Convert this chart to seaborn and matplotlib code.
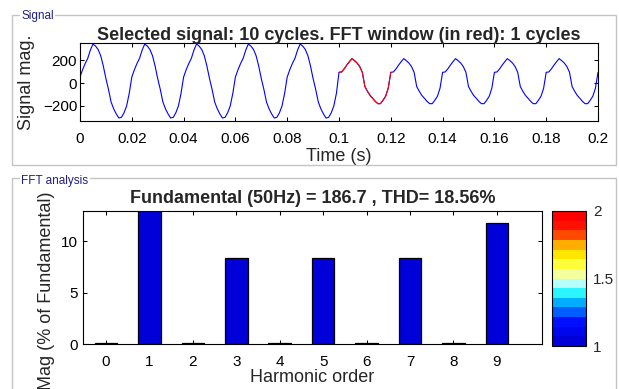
import numpy as np
import pandas as pd
import matplotlib
matplotlib.use("Agg")
import matplotlib.pyplot as plt
from matplotlib.cm import ScalarMappable
from matplotlib.colors import (LinearSegmentedColormap, ListedColormap,
                               Normalize)
from matplotlib.patches import Rectangle
import seaborn as sns

# one 20 ms period (1 ms steps)
cycle_before = [53, 118, 172, 218, 290, 343, 325, 295, 240, 150,
                40, -55, -165, -225, -270, -306, -300, -260, -200, -90]
cycle_after = [95, 98, 125, 158, 188, 215, 197, 176, 145, 95,
               -30, -72, -108, -133, -160, -180, -180, -150, -115, -45]
n_cycles_before = 5
n_cycles_after = 5
sample_step = 0.001  # s
fft_window = (0.10, 0.12)

time_ticks = [0, 0.02, 0.04, 0.06, 0.08, 0.1, 0.12, 0.14, 0.16, 0.18, 0.2]
time_tick_labels = ['0', '0.02', '0.04', '0.06', '0.08', '0.1',
                    '0.12', '0.14', '0.16', '0.18', '0.2']
signal_ticks = [-200, 0, 200]

harmonic_order = [0, 1, 2, 3, 4, 5, 6, 7, 8, 9]
harmonic_mag = [0.05, 100, 0.05, 8.38, 0.05, 8.38, 0.05, 8.38, 0.05, 11.8]
mag_ticks = [0, 5, 10]

cbar_ticks = [1, 1.5, 2]
cbar_tick_labels = ['1', '1.5', '2']

signal = (cycle_before * n_cycles_before + cycle_after * n_cycles_after
          + cycle_after[:1])
signal_df = pd.DataFrame({
    'time': np.arange(len(signal)) * sample_step,
    'mag': signal,
})
window_df = signal_df[(signal_df.time >= fft_window[0] - 1e-9)
                      & (signal_df.time <= fft_window[1] + 1e-9)]
fft_df = pd.DataFrame({'order': harmonic_order, 'mag': harmonic_mag})

sns.set_style('ticks')
plt.rcParams['font.family'] = ['Liberation Sans', 'DejaVu Sans']

W, H = 619, 389
fig = plt.figure(figsize=(W / 100, H / 100), dpi=100)
fig.patch.set_facecolor('white')


def px_rect(left, top, right, bottom):
    return [left / W, 1 - bottom / H, (right - left) / W, (bottom - top) / H]


def style_axes(ax):
    ax.tick_params(direction='in', top=True, right=True, length=3,
                   width=0.75, labelsize=11, colors='black')
    for spine in ax.spines.values():
        spine.set_visible(True)
        spine.set_linewidth(0.8)
        spine.set_color('black')


# group box frames
box_color = '#c4c4c4'
fig.add_artist(Rectangle((12 / W, 1 - 165 / H), 604 / W, 150 / H,
                         transform=fig.transFigure, fill=False,
                         edgecolor=box_color, lw=1))
fig.add_artist(Rectangle((12 / W, 1 - 420 / H), 604 / W, 242 / H,
                         transform=fig.transFigure, fill=False,
                         edgecolor=box_color, lw=1))
fig.text(21 / W, 1 - 16 / H, 'Signal', fontsize=8.5, color='#202080',
         va='center', ha='left',
         bbox=dict(facecolor='white', edgecolor='none', pad=1))
fig.text(21 / W, 1 - 181 / H, 'FFT analysis', fontsize=8.5,
         color='#202080', va='center', ha='left',
         bbox=dict(facecolor='white', edgecolor='none', pad=1))

# signal panel
ax1 = fig.add_axes(px_rect(80, 43, 598, 121))
sns.lineplot(data=signal_df, x='time', y='mag', ax=ax1, color='#0000ff',
             lw=0.8, estimator=None)
sns.lineplot(data=window_df, x='time', y='mag', ax=ax1, color='#ff0000',
             lw=0.8, estimator=None)
ax1.set_xlim(0, 0.2)
ax1.set_ylim(-332, 352)
ax1.set_xticks(time_ticks)
ax1.set_xticklabels(time_tick_labels)
ax1.set_yticks(signal_ticks)
style_axes(ax1)
ax1.tick_params(axis='x', pad=8)
ax1.tick_params(axis='y', pad=2)
ax1.set_xlabel('Time (s)', fontsize=13, labelpad=1)
ax1.set_ylabel('Signal mag.', fontsize=13, labelpad=6)
ax1.set_title('Selected signal: 10 cycles. FFT window (in red): 1 cycles',
              fontsize=13, fontweight='bold', pad=2)

# FFT panel
ax2 = fig.add_axes(px_rect(83, 211, 542, 344))
sns.barplot(data=fft_df, x='order', y='mag', ax=ax2, native_scale=True,
            color='#0000d8', saturation=1, width=0.52, edgecolor='black',
            linewidth=0.9)
ax2.set_xlim(-0.53, 10.04)
ax2.set_ylim(0, 12.95)
ax2.set_xticks(harmonic_order)
ax2.set_xticklabels([str(o) for o in harmonic_order])
ax2.set_yticks(mag_ticks)
style_axes(ax2)
ax2.tick_params(axis='x', pad=8)
ax2.tick_params(axis='y', pad=4)
ax2.set_xlabel('Harmonic order', fontsize=13, labelpad=0)
ax2.set_ylabel('Mag (% of Fundamental)', fontsize=13)
ax2.yaxis.set_label_coords(-0.062, 0.40)
ax2.set_title('Fundamental (50Hz) = 186.7 , THD= 18.56%',
              fontsize=13, fontweight='bold', pad=6)

# colour bar (blue - cyan - yellow - red, stepped)
cax = fig.add_axes(px_rect(552, 211, 586, 346))
anchor_cmap = LinearSegmentedColormap.from_list('bar_scale', [
    (0.00, (0.0, 0.0, 0.85)),
    (0.15, (0.0, 0.05, 1.0)),
    (0.28, (0.0, 0.55, 1.0)),
    (0.36, (0.0, 0.95, 1.0)),
    (0.46, (0.7, 1.0, 1.0)),
    (0.55, (1.0, 1.0, 0.55)),
    (0.66, (1.0, 1.0, 0.0)),
    (0.78, (1.0, 0.65, 0.0)),
    (0.88, (1.0, 0.1, 0.0)),
    (1.00, (1.0, 0.0, 0.0)),
])
step_cmap = ListedColormap(anchor_cmap(np.linspace(0, 1, 14)))
mappable = ScalarMappable(norm=Normalize(1, 2), cmap=step_cmap)
cbar = fig.colorbar(mappable, cax=cax, ticks=cbar_ticks)
cbar.ax.set_yticklabels(cbar_tick_labels)
cbar.ax.tick_params(direction='in', length=2, width=0.75, labelsize=11,
                    pad=5)
cbar.outline.set_linewidth(0.8)
cbar.outline.set_edgecolor('black')

fig.savefig('out.png', dpi=100, facecolor='white')
